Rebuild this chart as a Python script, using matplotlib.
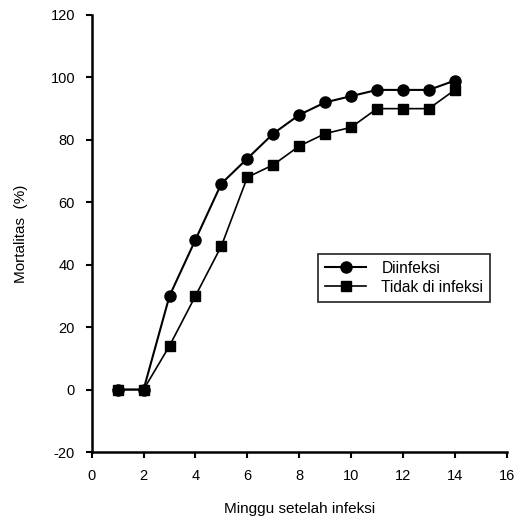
import matplotlib
matplotlib.use("Agg")
import matplotlib.pyplot as plt

plt.rcParams["font.family"] = ["Liberation Sans", "DejaVu Sans"]
plt.rcParams["axes.unicode_minus"] = False

# weeks after infection
minggu = [1, 2, 3, 4, 5, 6, 7, 8, 9, 10, 11, 12, 13, 14]
diinfeksi = [0, 0, 30, 48, 66, 74, 82, 88, 92, 94, 96, 96, 96, 99]
tidak_infeksi = [0, 0, 14, 30, 46, 68, 72, 78, 82, 84, 90, 90, 90, 96]

fig = plt.figure(figsize=(5.21, 5.22), dpi=100)
ax = fig.add_axes([91.7 / 521, 1 - 452 / 522, 415 / 521, 437 / 522])

ax.plot(minggu, diinfeksi, "-o", color="black", lw=1.5, ms=8, label="Diinfeksi")
ax.plot(minggu, tidak_infeksi, "-s", color="black", lw=1.2, ms=6.5,
        label="Tidak di infeksi")

ax.set_xlim(0, 16)
ax.set_ylim(-20, 120)
ax.set_xticks(range(0, 17, 2))
ax.set_yticks(range(-20, 121, 20))
for s in ["top", "right"]:
    ax.spines[s].set_visible(False)
for s in ["left", "bottom"]:
    ax.spines[s].set_linewidth(1.8)
ax.tick_params(direction="out", length=4, width=1.5, labelsize=10.5, pad=8)

ax.set_ylabel("Mortalitas  (%)", fontsize=11, labelpad=16)
ax.set_xlabel("Minggu setelah infeksi", fontsize=11, labelpad=14)

leg = ax.legend(loc="upper left", bbox_to_anchor=(219 / 415, (452 - 246) / 437),
                frameon=True, fancybox=False, edgecolor="black",
                fontsize=11.2, handlelength=2.6, borderpad=0.45,
                labelspacing=0.25, handletextpad=1.0)
leg.get_frame().set_linewidth(1.3)

fig.savefig("out.png", dpi=100)
